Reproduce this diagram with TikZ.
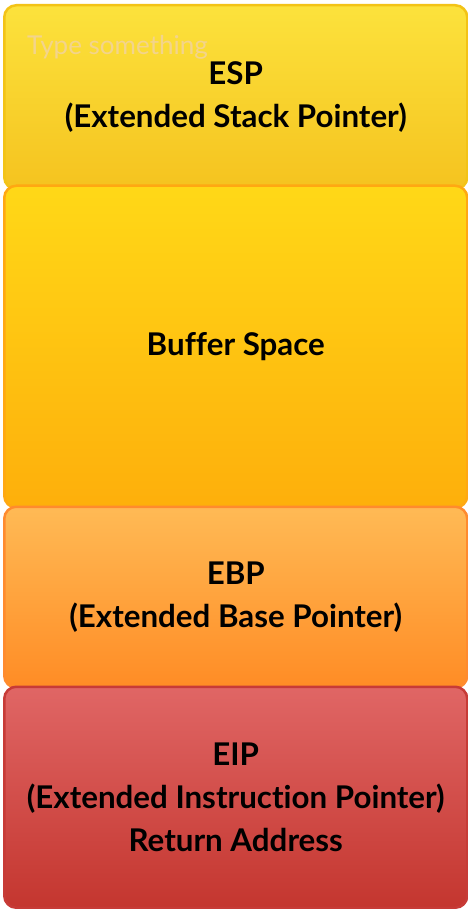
\documentclass[tikz,border=0pt]{standalone}
\usepackage{fontspec}
\setmainfont{Lato}[Ligatures=NoCommon]
\definecolor{ytop}{RGB}{252,226,60}
\definecolor{ybot}{RGB}{245,195,31}
\definecolor{yline}{RGB}{243,195,22}
\definecolor{otop}{RGB}{255,216,23}
\definecolor{obot}{RGB}{254,175,11}
\definecolor{oline}{RGB}{255,168,18}
\definecolor{ltop}{RGB}{255,186,85}
\definecolor{lbot}{RGB}{255,140,37}
\definecolor{lline}{RGB}{255,139,46}
\definecolor{rtop}{RGB}{224,102,101}
\definecolor{rbot}{RGB}{196,54,47}
\definecolor{rline}{RGB}{199,59,55}
\definecolor{ghost}{RGB}{243,212,140}
\begin{document}
\begin{tikzpicture}[x=1pt,y=-1pt,
  layer/.style={rounded corners=12pt, line width=2.5pt, align=center,
    inner sep=0pt, minimum width=463pt, anchor=north west,
    font=\fontsize{31.3}{43}\selectfont\bfseries, text=black},
  ]
\useasboundingbox (0,0) rectangle (467,909);
\node[layer, draw=yline, top color=ytop, bottom color=ybot, minimum height=184pt] (esp) at (3,4)
  {ESP\\(Extended Stack Pointer)};
\node[anchor=base west, text=ghost, font=\fontsize{26}{30}\selectfont, inner sep=0pt] (ghosttext) at (27,55) {Type something};
\node[layer, draw=oline, top color=otop, bottom color=obot, minimum height=322pt] (buf) at (3,184.5)
  {Buffer Space};
\node[layer, draw=lline, top color=ltop, bottom color=lbot, minimum height=181pt] (ebp) at (3,505.5)
  {EBP\\(Extended Base Pointer)};
\node[layer, draw=rline, top color=rtop, bottom color=rbot, minimum height=221pt] (eip) at (3,685.5)
  {EIP\\(Extended Instruction Pointer)\\Return Address};
\end{tikzpicture}
\end{document}
